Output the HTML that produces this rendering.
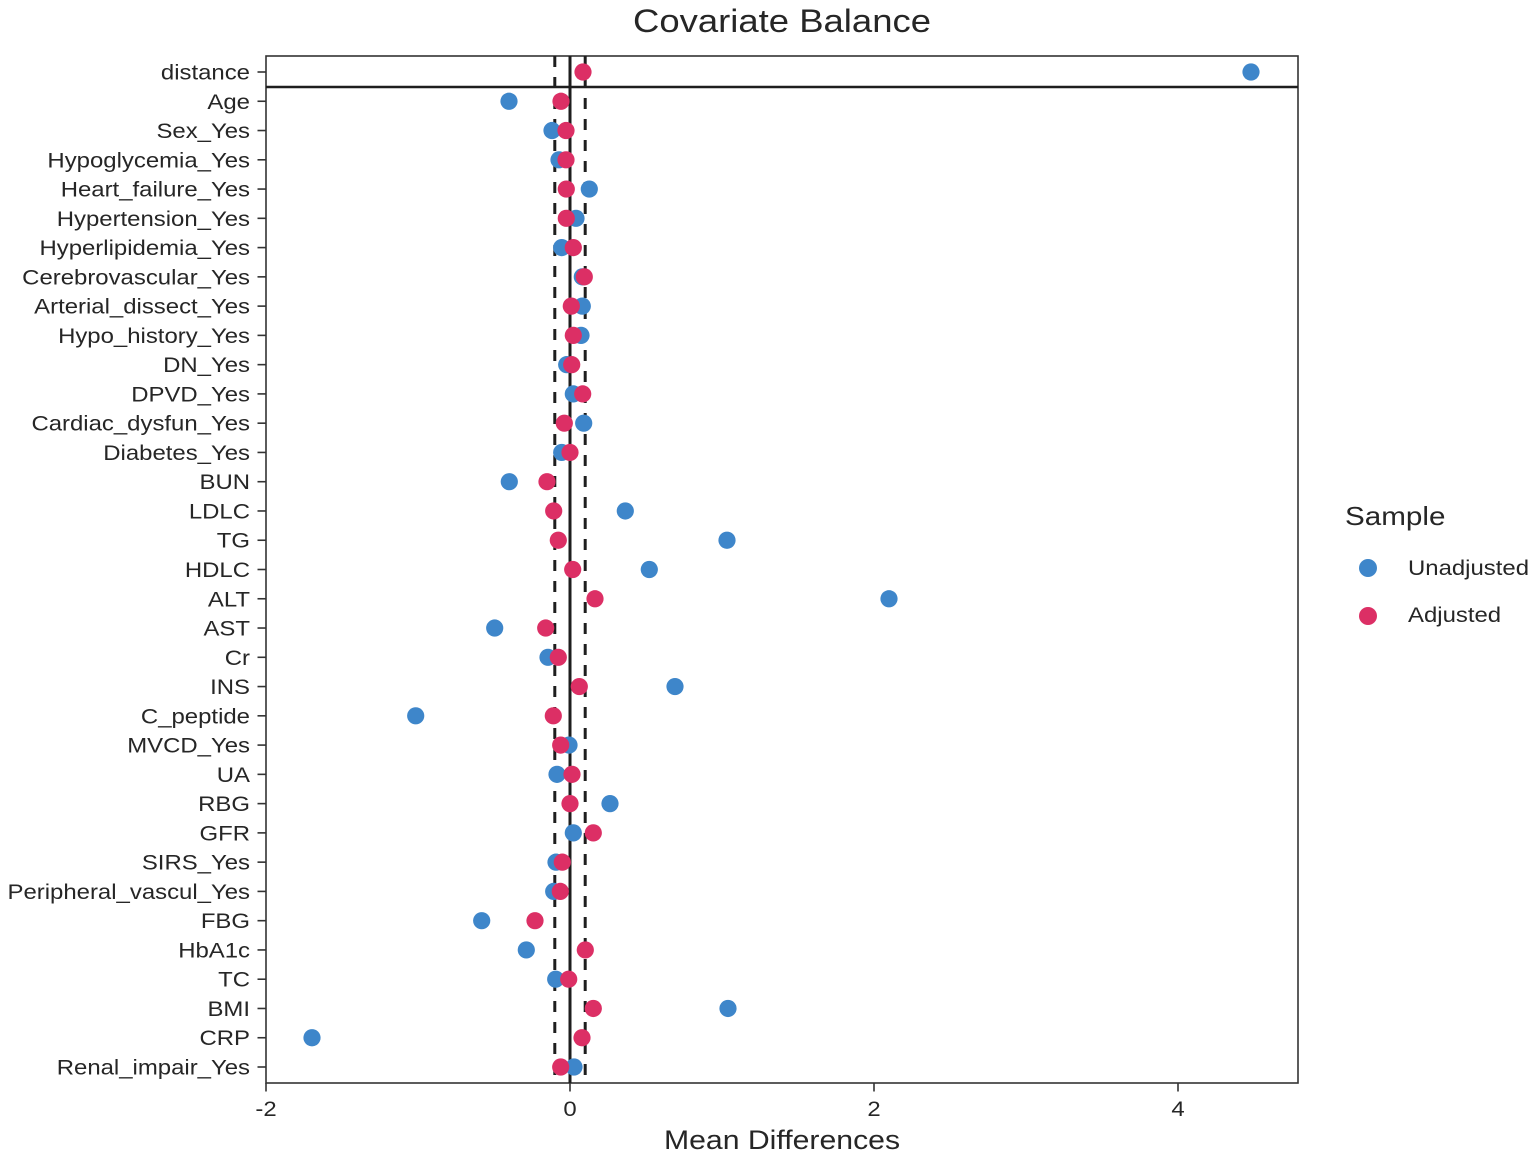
<!DOCTYPE html>
<html>
<head>
<meta charset="utf-8">
<style>
  html, body { margin:0; padding:0; background:#ffffff; }
  svg { display:block; }
  text { font-family: "Liberation Sans", Arial, sans-serif; fill:#262626; }
</style>
</head>
<body>
<svg width="1535" height="1155" viewBox="0 0 1535 1155" xmlns="http://www.w3.org/2000/svg">
  <rect x="0" y="0" width="1535" height="1155" fill="#ffffff"/>

  <!-- Title -->
  <text transform="translate(782,32) scale(1.14,1)" text-anchor="middle" font-size="32">Covariate Balance</text>

  <!-- Panel -->
  <rect x="266" y="56" width="1032" height="1027" fill="#ffffff" stroke="#333333" stroke-width="1.6"/>

  <!-- reference lines -->
  <line x1="266" y1="87" x2="1298" y2="87" stroke="#1e1e1e" stroke-width="2.6"/>
  <line x1="570" y1="56" x2="570" y2="1083" stroke="#1e1e1e" stroke-width="3"/>
  <line x1="554.8" y1="56" x2="554.8" y2="1083" stroke="#1e1e1e" stroke-width="3" stroke-dasharray="11 10"/>
  <line x1="585.2" y1="56" x2="585.2" y2="1083" stroke="#1e1e1e" stroke-width="3" stroke-dasharray="11 10"/>

  <!-- Y ticks -->
  <g stroke="#333333" stroke-width="1.6">
    <line x1="257.5" x2="266" y1="72" y2="72"/>
    <line x1="257.5" x2="266" y1="101.26" y2="101.26"/>
    <line x1="257.5" x2="266" y1="130.53" y2="130.53"/>
    <line x1="257.5" x2="266" y1="159.79" y2="159.79"/>
    <line x1="257.5" x2="266" y1="189.06" y2="189.06"/>
    <line x1="257.5" x2="266" y1="218.32" y2="218.32"/>
    <line x1="257.5" x2="266" y1="247.59" y2="247.59"/>
    <line x1="257.5" x2="266" y1="276.85" y2="276.85"/>
    <line x1="257.5" x2="266" y1="306.12" y2="306.12"/>
    <line x1="257.5" x2="266" y1="335.38" y2="335.38"/>
    <line x1="257.5" x2="266" y1="364.65" y2="364.65"/>
    <line x1="257.5" x2="266" y1="393.91" y2="393.91"/>
    <line x1="257.5" x2="266" y1="423.18" y2="423.18"/>
    <line x1="257.5" x2="266" y1="452.44" y2="452.44"/>
    <line x1="257.5" x2="266" y1="481.71" y2="481.71"/>
    <line x1="257.5" x2="266" y1="510.97" y2="510.97"/>
    <line x1="257.5" x2="266" y1="540.24" y2="540.24"/>
    <line x1="257.5" x2="266" y1="569.50" y2="569.50"/>
    <line x1="257.5" x2="266" y1="598.76" y2="598.76"/>
    <line x1="257.5" x2="266" y1="628.03" y2="628.03"/>
    <line x1="257.5" x2="266" y1="657.29" y2="657.29"/>
    <line x1="257.5" x2="266" y1="686.56" y2="686.56"/>
    <line x1="257.5" x2="266" y1="715.82" y2="715.82"/>
    <line x1="257.5" x2="266" y1="745.09" y2="745.09"/>
    <line x1="257.5" x2="266" y1="774.35" y2="774.35"/>
    <line x1="257.5" x2="266" y1="803.62" y2="803.62"/>
    <line x1="257.5" x2="266" y1="832.88" y2="832.88"/>
    <line x1="257.5" x2="266" y1="862.15" y2="862.15"/>
    <line x1="257.5" x2="266" y1="891.41" y2="891.41"/>
    <line x1="257.5" x2="266" y1="920.68" y2="920.68"/>
    <line x1="257.5" x2="266" y1="949.94" y2="949.94"/>
    <line x1="257.5" x2="266" y1="979.21" y2="979.21"/>
    <line x1="257.5" x2="266" y1="1008.47" y2="1008.47"/>
    <line x1="257.5" x2="266" y1="1037.74" y2="1037.74"/>
    <line x1="257.5" x2="266" y1="1067" y2="1067"/>
  </g>

  <!-- Y labels -->
  <g font-size="21" text-anchor="end">
    <text transform="translate(250,79.5) scale(1.14,1)">distance</text>
    <text transform="translate(250,108.76) scale(1.14,1)">Age</text>
    <text transform="translate(250,138.03) scale(1.14,1)">Sex_Yes</text>
    <text transform="translate(250,167.29) scale(1.14,1)">Hypoglycemia_Yes</text>
    <text transform="translate(250,196.56) scale(1.14,1)">Heart_failure_Yes</text>
    <text transform="translate(250,225.82) scale(1.14,1)">Hypertension_Yes</text>
    <text transform="translate(250,255.09) scale(1.14,1)">Hyperlipidemia_Yes</text>
    <text transform="translate(250,284.35) scale(1.14,1)">Cerebrovascular_Yes</text>
    <text transform="translate(250,313.62) scale(1.14,1)">Arterial_dissect_Yes</text>
    <text transform="translate(250,342.88) scale(1.14,1)">Hypo_history_Yes</text>
    <text transform="translate(250,372.15) scale(1.14,1)">DN_Yes</text>
    <text transform="translate(250,401.41) scale(1.14,1)">DPVD_Yes</text>
    <text transform="translate(250,430.68) scale(1.14,1)">Cardiac_dysfun_Yes</text>
    <text transform="translate(250,459.94) scale(1.14,1)">Diabetes_Yes</text>
    <text transform="translate(250,489.21) scale(1.14,1)">BUN</text>
    <text transform="translate(250,518.47) scale(1.14,1)">LDLC</text>
    <text transform="translate(250,547.74) scale(1.14,1)">TG</text>
    <text transform="translate(250,577.00) scale(1.14,1)">HDLC</text>
    <text transform="translate(250,606.26) scale(1.14,1)">ALT</text>
    <text transform="translate(250,635.53) scale(1.14,1)">AST</text>
    <text transform="translate(250,664.79) scale(1.14,1)">Cr</text>
    <text transform="translate(250,694.06) scale(1.14,1)">INS</text>
    <text transform="translate(250,723.32) scale(1.14,1)">C_peptide</text>
    <text transform="translate(250,752.59) scale(1.14,1)">MVCD_Yes</text>
    <text transform="translate(250,781.85) scale(1.14,1)">UA</text>
    <text transform="translate(250,811.12) scale(1.14,1)">RBG</text>
    <text transform="translate(250,840.38) scale(1.14,1)">GFR</text>
    <text transform="translate(250,869.65) scale(1.14,1)">SIRS_Yes</text>
    <text transform="translate(250,898.91) scale(1.14,1)">Peripheral_vascul_Yes</text>
    <text transform="translate(250,928.18) scale(1.14,1)">FBG</text>
    <text transform="translate(250,957.44) scale(1.14,1)">HbA1c</text>
    <text transform="translate(250,986.71) scale(1.14,1)">TC</text>
    <text transform="translate(250,1015.97) scale(1.14,1)">BMI</text>
    <text transform="translate(250,1045.24) scale(1.14,1)">CRP</text>
    <text transform="translate(250,1074.5) scale(1.14,1)">Renal_impair_Yes</text>
  </g>

  <!-- X ticks -->
  <g stroke="#333333" stroke-width="1.6">
    <line x1="266" x2="266" y1="1083" y2="1091.5"/>
    <line x1="570" x2="570" y1="1083" y2="1091.5"/>
    <line x1="874" x2="874" y1="1083" y2="1091.5"/>
    <line x1="1178" x2="1178" y1="1083" y2="1091.5"/>
  </g>
  <g font-size="21" text-anchor="middle">
    <text transform="translate(266,1116) scale(1.14,1)">-2</text>
    <text transform="translate(570,1116) scale(1.14,1)">0</text>
    <text transform="translate(874,1116) scale(1.14,1)">2</text>
    <text transform="translate(1178,1116) scale(1.14,1)">4</text>
  </g>

  <!-- X axis title -->
  <text transform="translate(782,1149) scale(1.14,1)" text-anchor="middle" font-size="26.5">Mean Differences</text>

  <!-- Unadjusted points -->
  <g fill="#3E86CA">
    <circle cx="1251" cy="72" r="8.6"/>
    <circle cx="509" cy="101.26" r="8.6"/>
    <circle cx="552" cy="130.53" r="8.6"/>
    <circle cx="559" cy="159.79" r="8.6"/>
    <circle cx="589.3" cy="189.06" r="8.6"/>
    <circle cx="576" cy="218.32" r="8.6"/>
    <circle cx="561.7" cy="247.59" r="8.6"/>
    <circle cx="582.3" cy="276.85" r="8.6"/>
    <circle cx="582.3" cy="306.12" r="8.6"/>
    <circle cx="581" cy="335.38" r="8.6"/>
    <circle cx="566.7" cy="364.65" r="8.6"/>
    <circle cx="573.3" cy="393.91" r="8.6"/>
    <circle cx="583.7" cy="423.18" r="8.6"/>
    <circle cx="561.7" cy="452.44" r="8.6"/>
    <circle cx="509.3" cy="481.71" r="8.6"/>
    <circle cx="625.3" cy="510.97" r="8.6"/>
    <circle cx="727" cy="540.24" r="8.6"/>
    <circle cx="649.3" cy="569.50" r="8.6"/>
    <circle cx="889" cy="598.76" r="8.6"/>
    <circle cx="494.7" cy="628.03" r="8.6"/>
    <circle cx="548" cy="657.29" r="8.6"/>
    <circle cx="675" cy="686.56" r="8.6"/>
    <circle cx="415.7" cy="715.82" r="8.6"/>
    <circle cx="569" cy="745.09" r="8.6"/>
    <circle cx="557" cy="774.35" r="8.6"/>
    <circle cx="610" cy="803.62" r="8.6"/>
    <circle cx="573.3" cy="832.88" r="8.6"/>
    <circle cx="556" cy="862.15" r="8.6"/>
    <circle cx="553.7" cy="891.41" r="8.6"/>
    <circle cx="481.7" cy="920.68" r="8.6"/>
    <circle cx="526.3" cy="949.94" r="8.6"/>
    <circle cx="555.7" cy="979.21" r="8.6"/>
    <circle cx="728" cy="1008.47" r="8.6"/>
    <circle cx="312" cy="1037.74" r="8.6"/>
    <circle cx="574" cy="1067" r="8.6"/>
  </g>

  <!-- Adjusted points -->
  <g fill="#DC2F65">
    <circle cx="583" cy="72" r="8.6"/>
    <circle cx="561" cy="101.26" r="8.6"/>
    <circle cx="566" cy="130.53" r="8.6"/>
    <circle cx="566" cy="159.79" r="8.6"/>
    <circle cx="566.3" cy="189.06" r="8.6"/>
    <circle cx="566.3" cy="218.32" r="8.6"/>
    <circle cx="573.3" cy="247.59" r="8.6"/>
    <circle cx="584.3" cy="276.85" r="8.6"/>
    <circle cx="571.3" cy="306.12" r="8.6"/>
    <circle cx="573.3" cy="335.38" r="8.6"/>
    <circle cx="571.7" cy="364.65" r="8.6"/>
    <circle cx="582.7" cy="393.91" r="8.6"/>
    <circle cx="564.3" cy="423.18" r="8.6"/>
    <circle cx="570" cy="452.44" r="8.6"/>
    <circle cx="547" cy="481.71" r="8.6"/>
    <circle cx="553.7" cy="510.97" r="8.6"/>
    <circle cx="558.3" cy="540.24" r="8.6"/>
    <circle cx="572.7" cy="569.50" r="8.6"/>
    <circle cx="595" cy="598.76" r="8.6"/>
    <circle cx="545.7" cy="628.03" r="8.6"/>
    <circle cx="558.3" cy="657.29" r="8.6"/>
    <circle cx="579.3" cy="686.56" r="8.6"/>
    <circle cx="553.3" cy="715.82" r="8.6"/>
    <circle cx="560.7" cy="745.09" r="8.6"/>
    <circle cx="572" cy="774.35" r="8.6"/>
    <circle cx="570" cy="803.62" r="8.6"/>
    <circle cx="593.3" cy="832.88" r="8.6"/>
    <circle cx="562.3" cy="862.15" r="8.6"/>
    <circle cx="560.3" cy="891.41" r="8.6"/>
    <circle cx="535" cy="920.68" r="8.6"/>
    <circle cx="585.3" cy="949.94" r="8.6"/>
    <circle cx="568.7" cy="979.21" r="8.6"/>
    <circle cx="593.3" cy="1008.47" r="8.6"/>
    <circle cx="582" cy="1037.74" r="8.6"/>
    <circle cx="560.7" cy="1067" r="8.6"/>
  </g>

  <!-- Legend -->
  <text transform="translate(1345,525) scale(1.14,1)" font-size="26">Sample</text>
  <circle cx="1368" cy="568" r="9" fill="#3E86CA"/>
  <circle cx="1368" cy="616" r="9" fill="#DC2F65"/>
  <text transform="translate(1408,575) scale(1.14,1)" font-size="21">Unadjusted</text>
  <text transform="translate(1408,622) scale(1.14,1)" font-size="21">Adjusted</text>
</svg>
</body>
</html>
